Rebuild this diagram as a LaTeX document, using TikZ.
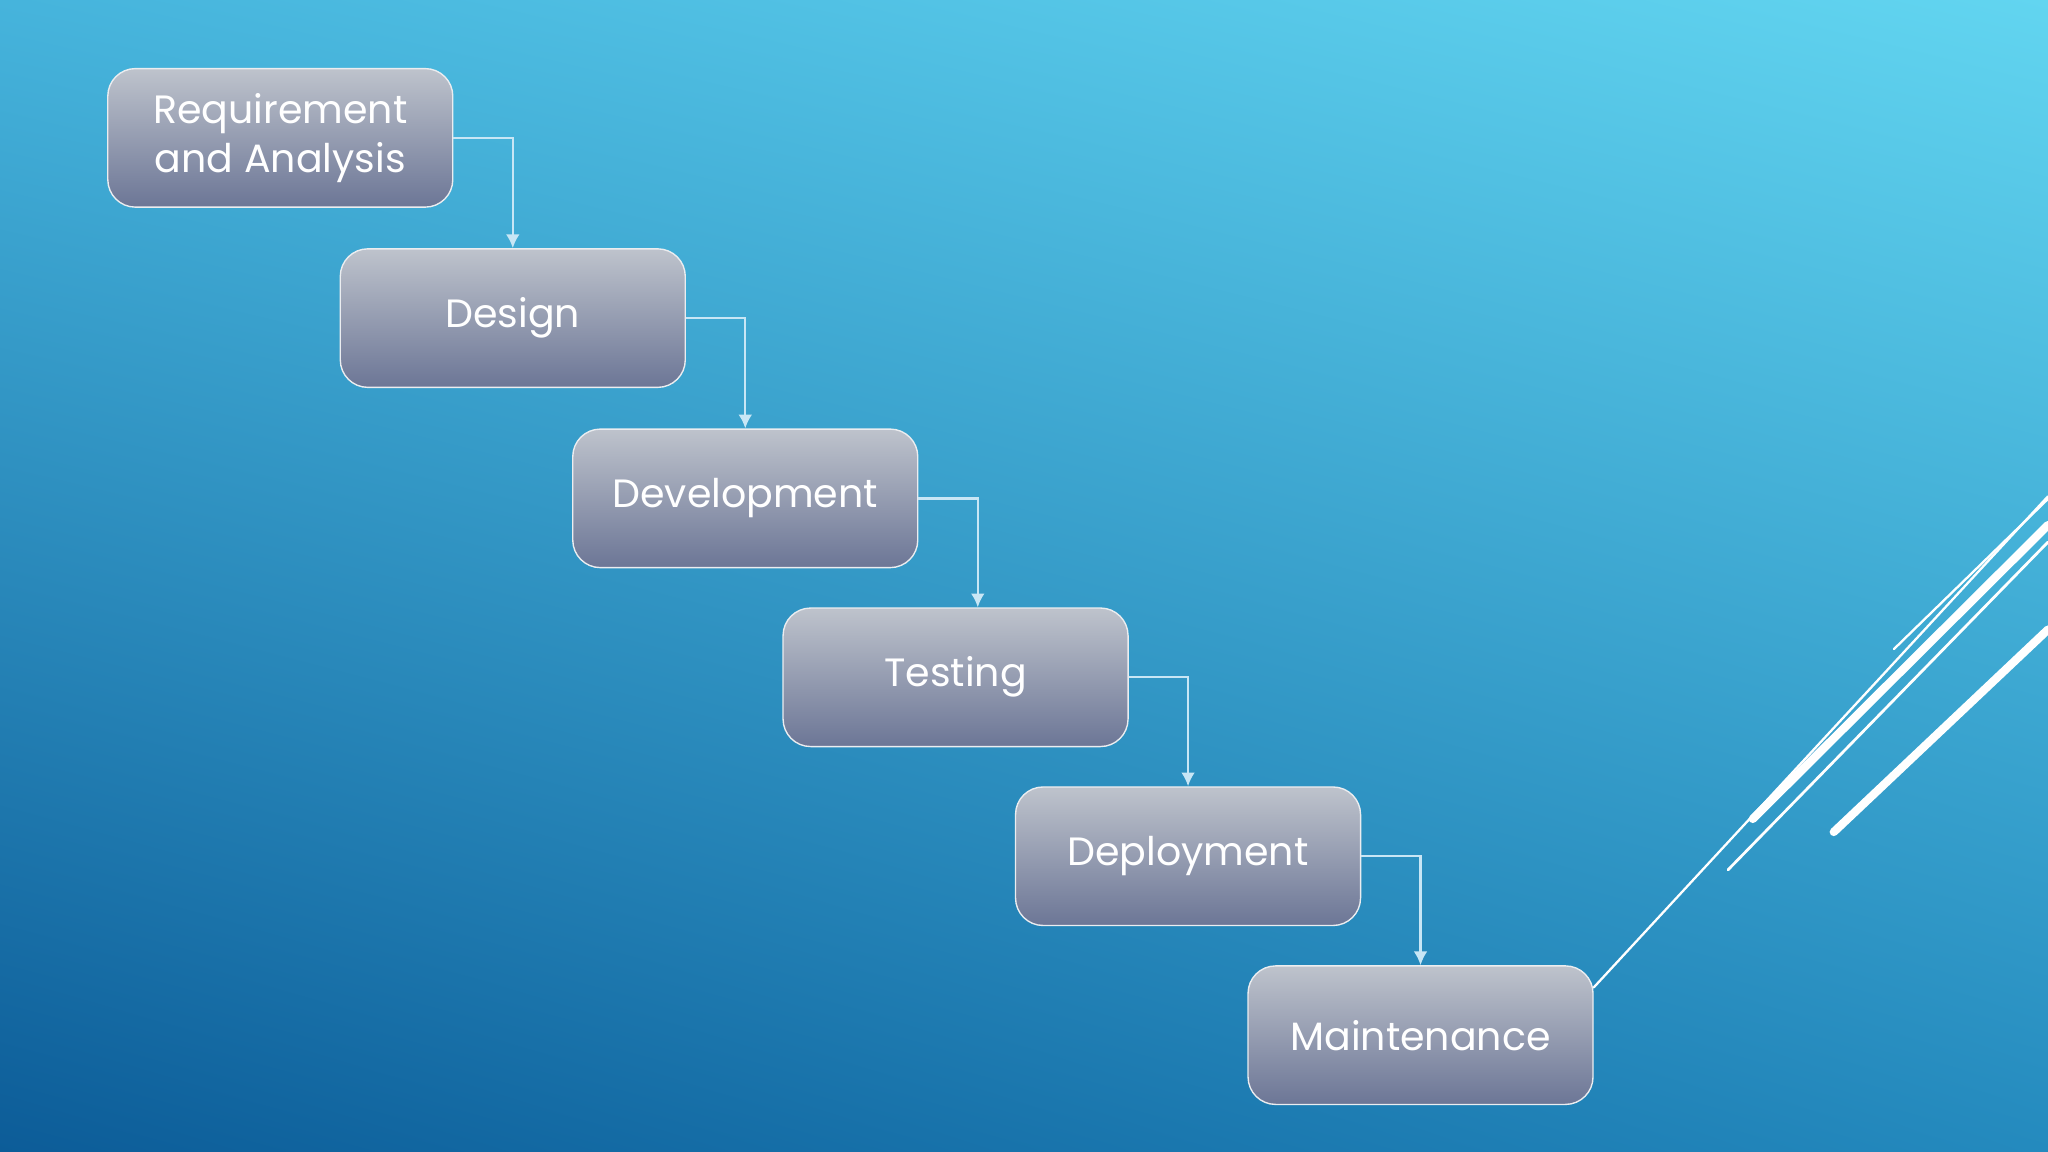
\documentclass[tikz,border=0pt]{standalone}
\usepackage{fontspec}
\setmainfont{Poppins}
\usetikzlibrary{arrows.meta,calc,shadings}
\definecolor{bgUL}{RGB}{70,180,220}
\definecolor{bgUR}{RGB}{98,213,240}
\definecolor{bgLL}{RGB}{12,92,152}
\definecolor{bgLR}{RGB}{36,138,190}
\definecolor{boxtop}{RGB}{190,195,204}
\definecolor{boxbot}{RGB}{108,118,150}
\definecolor{conn}{RGB}{200,230,245}
\tikzset{
  stage/.style={rounded corners=6pt,minimum width=2.64cm,minimum height=1.06cm,
    top color=boxtop,bottom color=boxbot,draw=white!70!boxtop,line width=0.3pt,
    text=white,font=\fontsize{8.6}{10.6}\selectfont,align=center,anchor=north west},
  link/.style={draw=conn,line width=0.5pt,-{Latex[length=3pt,width=3pt]}},
  deco/.style={draw=white,line cap=round}
}
\begin{document}
\begin{tikzpicture}[x=0.01cm,y=-0.01cm]
\useasboundingbox (0,0) rectangle (1568,882);
\shade[upper left=bgUL,upper right=bgUR,lower left=bgLL,lower right=bgLR] (0,0) rectangle (1568,882);
\node[stage] (b1) at (82,52) {Requirement\\and Analysis};
\node[stage] (b2) at (260,190) {Design};
\node[stage] (b3) at (438,328) {Development};
\node[stage] (b4) at (599,465) {Testing};
\node[stage] (b5) at (777,602) {Deployment};
\node[stage] (b6) at (955,739) {Maintenance};
\draw[link] (b1.east) -| (b2.north);
\draw[link] (b2.east) -| (b3.north);
\draw[link] (b3.east) -| ([xshift=0.17cm]b4.north);
\draw[link] (b4.east) -| (b5.north);
\draw[link] (b5.east) -| (b6.north);
\coordinate (d1) at (1568,380);
\draw[deco,line width=0.5pt] ([yshift=-0.17cm]b6.north east) -- (d1);
\coordinate (d2a) at (1342,627); \coordinate (d2b) at (1568,402);
\draw[deco,line width=1.8pt] (d2a) -- (d2b);
\coordinate (d3a) at (1404,637); \coordinate (d3b) at (1568,482);
\draw[deco,line width=1.8pt] (d3a) -- (d3b);
\coordinate (d4a) at (1323,666); \coordinate (d4b) at (1568,415);
\draw[deco,line width=0.6pt] (d4a) -- (d4b);
\coordinate (d5a) at (1450,497); \coordinate (d5b) at (1568,382);
\draw[deco,line width=0.5pt] (d5a) -- (d5b);
\end{tikzpicture}
\end{document}
